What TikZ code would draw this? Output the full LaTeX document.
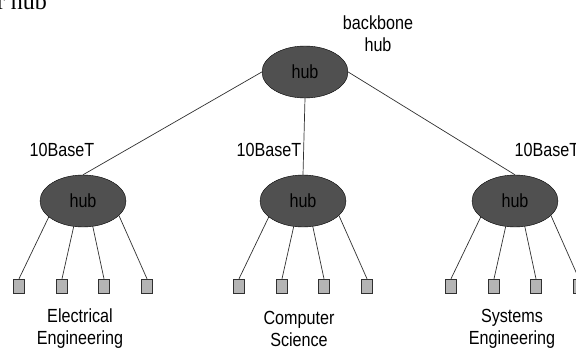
\documentclass[tikz,border=0pt]{standalone}
\usepackage{fontspec}
\setmainfont{Liberation Sans}[FakeStretch=0.85]
\newfontfamily\headfont{Liberation Serif}
\usetikzlibrary{shapes.geometric}

\definecolor{hubgray}{HTML}{505050}
\definecolor{stgray}{HTML}{B4B4B4}
\definecolor{wiregray}{HTML}{303030}

\tikzset{
	hub/.style={ellipse, draw=black, fill=hubgray, minimum width=86pt, minimum height=52pt, inner sep=0pt, text=black, font=\fontsize{19}{22}\selectfont},
	station/.style={rectangle, draw=wiregray, fill=stgray, minimum width=11pt, minimum height=14pt, inner sep=0pt},
	wire/.style={draw=wiregray, line width=0.7pt},
	lbl/.style={align=center, inner sep=0pt, font=\fontsize{19}{22}\selectfont},
}

\begin{document}
\begin{tikzpicture}[x=1pt, y=-1pt]

%\hubgroup{name}{x}
\newcommand*{\hubgroup}[2]{%
	\node [hub] (hub#1) at (#2,\huby) {hub};
	\foreach \dx/\a [count=\i] in {-64/205, -21/250, 21/291, 64/338} {
		\node [station] (#1st\i) at (#2+\dx,\sty) {};
		\draw [wire] (hub#1.\a) -- (#1st\i.north);
	}
}

\def\huby{201}
\def\sty{286}
\def\taby{150}
\def\depy{329}

\useasboundingbox (0,0) rectangle (576,350);

% title left over from the slide
\node [font=\fontsize{24}{28}\selectfont\headfont, anchor=base east, inner sep=0pt] (title) at (47,10) {r hub};

% backbone
\node [hub] (hubB) at (305,72) {hub};
\node [lbl] (bbl) at (378,34) {backbone\\hub};

% department hubs
\hubgroup{L}{83}
\hubgroup{M}{303}
\hubgroup{R}{515}

\draw [wire] (hubB.west) -- (hubL.north);
\draw [wire] (hubB.south) -- (hubM.north);
\draw [wire] (hubB.east) -- (hubR.north);

% labels
\node [lbl] (tL) at (62,\taby) {10BaseT};
\node [lbl] (tM) at (269,\taby) {10BaseT};
\node [lbl] (tR) at (547,\taby) {10BaseT};

\node [lbl] (dL) at (80,\depy) {Electrical\\Engineering};
\node [lbl] (dM) at (299,\depy) {Computer\\Science};
\node [lbl] (dR) at (512,\depy) {Systems\\Engineering};

\end{tikzpicture}
\end{document}
